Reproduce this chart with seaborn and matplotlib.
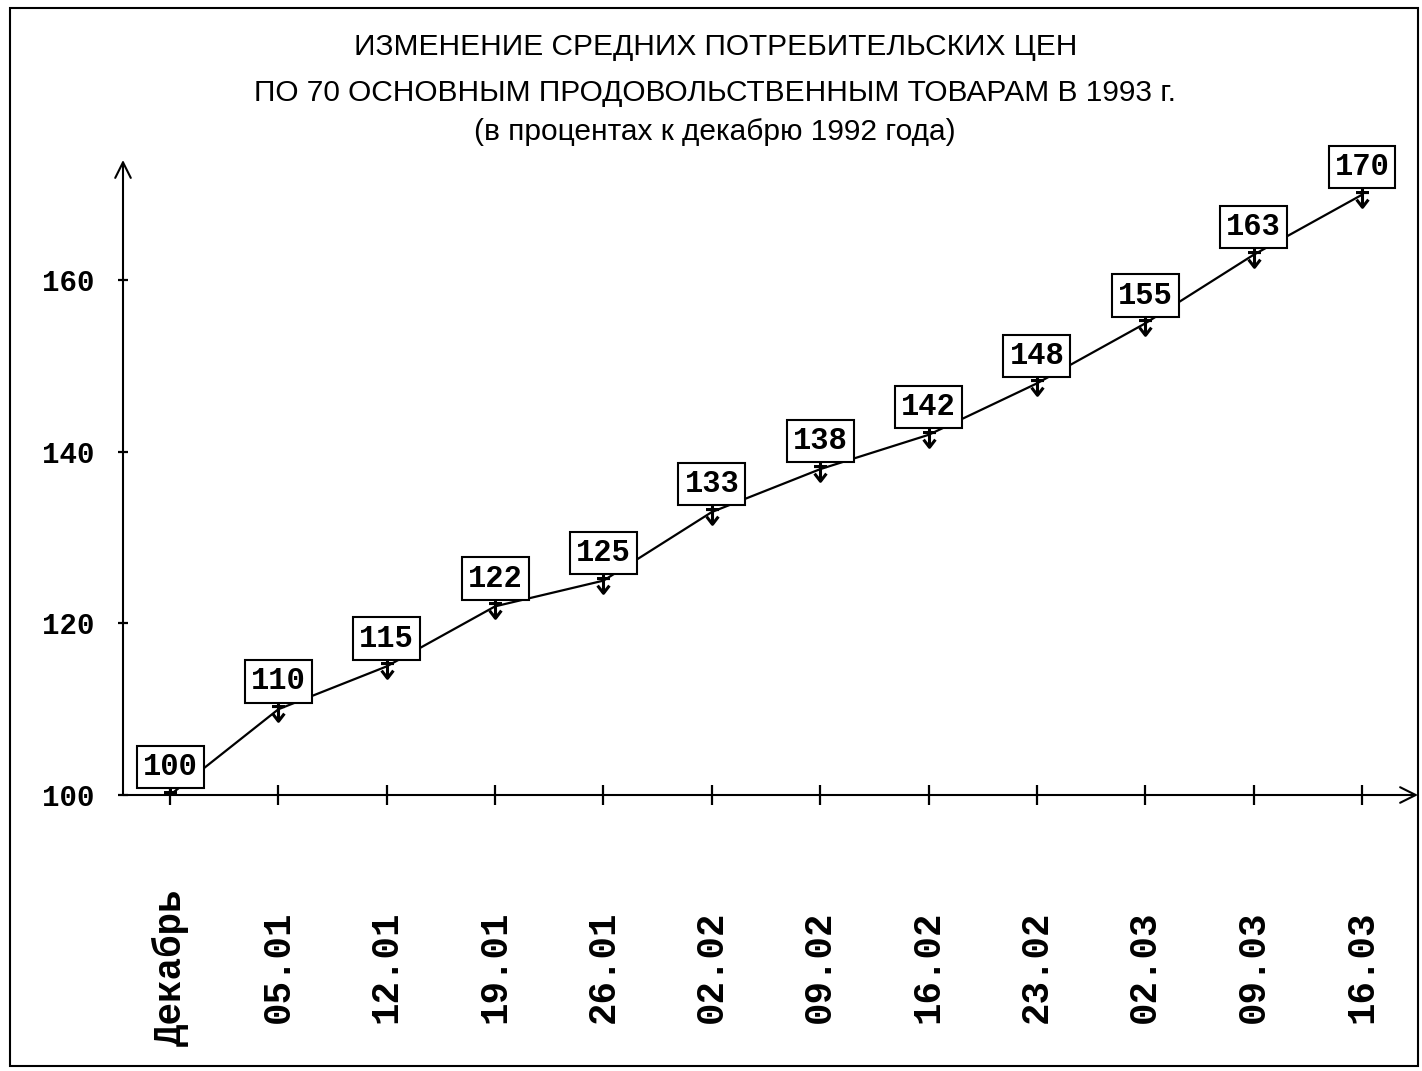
import numpy as np
import pandas as pd
import matplotlib
matplotlib.use('Agg')
import matplotlib.pyplot as plt
import seaborn as sns
from matplotlib.patches import Rectangle
from matplotlib.path import Path

categories = ['Декабрь', '05.01', '12.01', '19.01', '26.01', '02.02',
              '09.02', '16.02', '23.02', '02.03', '09.03', '16.03']
values = [100, 110, 115, 122, 125, 133, 138, 142, 148, 155, 163, 170]
yticks = [100, 120, 140, 160]
title_lines = ['ИЗМЕНЕНИЕ СРЕДНИХ ПОТРЕБИТЕЛЬСКИХ ЦЕН',
               'ПО 70 ОСНОВНЫМ ПРОДОВОЛЬСТВЕННЫМ ТОВАРАМ В 1993 г.',
               '(в процентах к декабрю 1992 года)']

sns.set_theme(style='white')
plt.rcParams['font.family'] = ['DejaVu Sans']

# marker: vertical stroke with a cross bar and a downward arrow head
marker_path = Path(
    [(0, 1), (0, -1), (-0.55, 0.25), (0.55, 0.25), (-0.5, -0.35), (0, -1), (0.5, -0.35)],
    [Path.MOVETO, Path.LINETO, Path.MOVETO, Path.LINETO, Path.MOVETO, Path.LINETO, Path.LINETO])

fig = plt.figure(figsize=(14.22, 10.71), dpi=100)
ax = fig.add_axes([0.0865, 0.2577, 0.9107, 0.5929])

df = pd.DataFrame({'pos': np.arange(len(categories)), 'value': values})
sns.lineplot(data=df, x='pos', y='value', ax=ax, color='black', lw=1.6,
             marker=marker_path, markersize=17, markeredgewidth=2.2,
             markeredgecolor='black', markerfacecolor='none', zorder=2)

ax.set_xlim(-0.434, 11.517)
ax.set_ylim(100, 174.05)
for s in ax.spines.values():
    s.set_visible(False)

arrow_kw = dict(arrowstyle='->', lw=1.5, color='black', mutation_scale=28,
                shrinkA=0, shrinkB=0)
ax.annotate('', xy=(1.0, 0), xytext=(0, 0), xycoords='axes fraction',
            arrowprops=arrow_kw, annotation_clip=False)
ax.annotate('', xy=(0, 1.0), xytext=(0, 0), xycoords='axes fraction',
            arrowprops=arrow_kw, annotation_clip=False)

ax.set_xticks(df['pos'])
ax.set_xticklabels(categories, rotation=90, fontfamily='Liberation Mono',
                   fontsize=27, fontweight='bold', va='center')
ax.tick_params(axis='x', direction='inout', length=14, width=1.6, pad=117,
               colors='black', bottom=True)
ax.set_yticks(yticks)
ax.set_yticklabels([str(t) for t in yticks], fontfamily='Liberation Mono',
                   fontsize=21, fontweight='bold')
ax.tick_params(axis='y', direction='inout', length=7, width=1.6, pad=17,
               colors='black', left=True)
ax.set_xlabel('')
ax.set_ylabel('')

for x, v in zip(df['pos'], df['value']):
    ax.annotate(str(v), (x, v), xytext=(0, 20), textcoords='offset points',
                ha='center', va='center', fontfamily='Liberation Mono',
                fontsize=22, fontweight='bold', zorder=5, color='black',
                bbox=dict(boxstyle='square,pad=0.2', fc='white', ec='black', lw=1.5),
                annotation_clip=False)

title_y = [0.956, 0.913, 0.877]
for line, yy in zip(title_lines, title_y):
    fig.text(0.503, yy, line, ha='center', va='center', fontsize=21.5,
             family=['Liberation Sans', 'DejaVu Sans'], color='black')

fig.patches.append(Rectangle((0.00703, 0.00467), 0.990, 0.988, transform=fig.transFigure,
                             fill=False, ec='black', lw=1.5))

fig.savefig('out.png', dpi=100, facecolor='white')
